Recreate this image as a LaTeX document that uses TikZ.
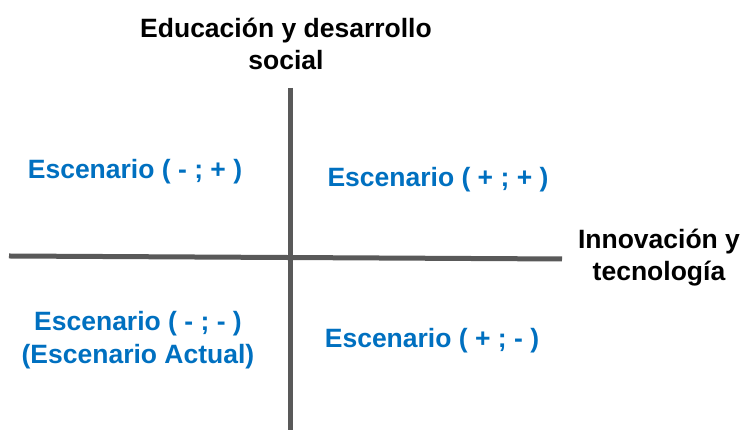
\documentclass[tikz,border=0pt]{standalone}
\usepackage{fontspec}
\setmainfont{Liberation Sans}
\definecolor{escblue}{HTML}{0070C0}
\definecolor{axisgray}{HTML}{595959}
\tikzset{
	escenario/.style={text=escblue, font=\fontsize{26.5}{33}\selectfont\bfseries, align=center, inner sep=0pt},
	eje/.style={font=\fontsize{26.5}{32}\selectfont\bfseries, align=center, inner sep=0pt},
	axisline/.style={draw=axisgray, line width=5pt}
}
\begin{document}
\begin{tikzpicture}[x=1pt,y=1pt]
		\useasboundingbox (0,0) rectangle (740,430);
		\coordinate (top) at (290,342);
		\coordinate (bottom) at (290,0);
		\coordinate (left) at (9,174);
		\coordinate (right) at (562,171);

		\draw [axisline] (top) -- (bottom);
		\draw [axisline] (left) -- (right);

		\node [eje] (educacion) at (286,386) {Educación y desarrollo\\social};
\node [eje] (innovacion) at (659,172) {Innovación y\\tecnología};

\node [escenario] (menosmas) at (135,258) {Escenario ( - ; + )};
\node [escenario] (masmas) at (438,250) {Escenario ( + ; + )};
\node [escenario] (menosmenos) at (138,90) {Escenario ( - ; - )\\(Escenario Actual)};
\node [escenario] (masmenos) at (432,89) {Escenario ( + ; - )};

		\end{tikzpicture}
\end{document}
